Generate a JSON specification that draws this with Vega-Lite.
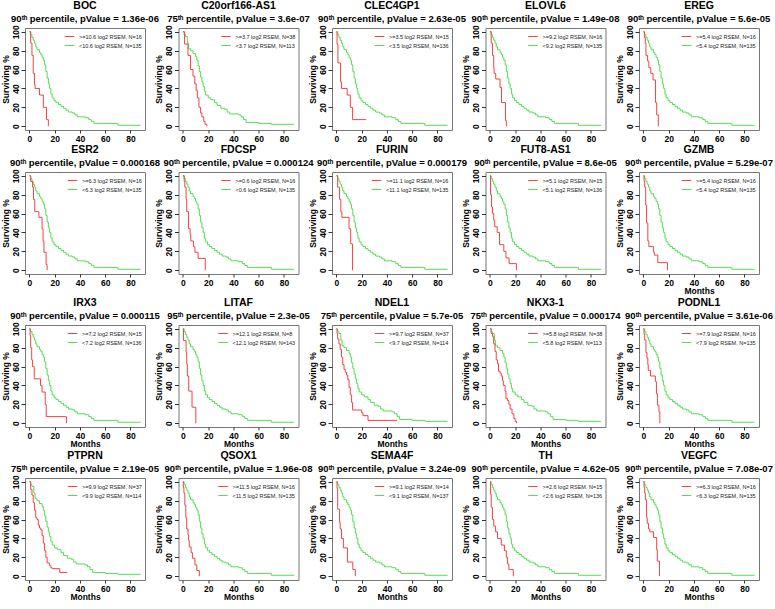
{
"$schema": "https://vega.github.io/schema/vega-lite/v6.json",
"background": "white",
"padding": {"left": 0, "top": 0, "right": 0, "bottom": 0},
"config": {
  "font": "Liberation Sans",
  "view": {"stroke": "#777777", "strokeWidth": 1},
  "axis": {"grid": false, "domain": false, "tickColor": "#333333", "tickSize": 3, "labelFont": "Liberation Sans", "labelFontWeight": "bold", "labelFontSize": 8.5, "labelColor": "black", "titleFont": "Liberation Sans", "titleFontSize": 8.5, "titleFontWeight": "bold", "titleColor": "black", "labelPadding": 1, "titlePadding": 0, "labelOverlap": false},
  "axisY": {"tickSize": 4, "labelAngle": 270, "labelAlign": "center", "labelBaseline": "bottom", "labelOverlap": false, "labelSeparation": 0, "titlePadding": 1},
  "title": {"font": "Liberation Sans", "fontSize": 10.5, "fontWeight": "bold", "color": "black", "subtitleFont": "Liberation Sans", "subtitleFontSize": 9.5, "subtitleFontWeight": "bold", "subtitleColor": "black", "anchor": "middle", "offset": 1, "subtitlePadding": 0},
  "legend": {"orient": "top-right", "offset": 3, "padding": 0, "title": null, "labelFont": "Liberation Sans", "labelFontSize": 5.5, "labelColor": "#222222", "symbolType": "stroke", "symbolSize": 90, "symbolStrokeWidth": 1, "rowPadding": 0, "labelOffset": 4},
  "line": {"strokeWidth": 1, "interpolate": "step-after"}
},
"datasets": {
  "low90": [{"t":0,"s":100},{"t":1,"s":97},{"t":2,"s":94},{"t":3,"s":91},{"t":4,"s":88},{"t":5,"s":84},{"t":6,"s":81},{"t":8,"s":78},{"t":9,"s":76},{"t":10,"s":73},{"t":11,"s":70},{"t":12,"s":65},{"t":13,"s":58},{"t":14,"s":51},{"t":15,"s":45},{"t":16,"s":40},{"t":17,"s":34},{"t":18,"s":30},{"t":19.5,"s":27},{"t":21,"s":25},{"t":23,"s":23},{"t":25,"s":21},{"t":27,"s":19},{"t":29,"s":17},{"t":31,"s":15},{"t":34,"s":14},{"t":36,"s":12},{"t":38,"s":10},{"t":44,"s":9},{"t":47,"s":7},{"t":49,"s":5},{"t":51,"s":3},{"t":70,"s":1},{"t":88,"s":1}],
  "low75": [{"t":0,"s":100},{"t":1,"s":97},{"t":2,"s":95},{"t":3.5,"s":88},{"t":4.5,"s":82},{"t":6,"s":80},{"t":8,"s":77},{"t":10,"s":74},{"t":11,"s":70},{"t":12,"s":64},{"t":13,"s":58},{"t":14,"s":52},{"t":15,"s":47},{"t":16,"s":42},{"t":17,"s":37},{"t":18,"s":33},{"t":20,"s":30},{"t":22,"s":28},{"t":25,"s":25},{"t":27,"s":22},{"t":30,"s":19},{"t":33,"s":18},{"t":35,"s":15},{"t":37,"s":13},{"t":44,"s":12},{"t":46,"s":10},{"t":48,"s":7},{"t":50,"s":4},{"t":60,"s":3},{"t":70,"s":2},{"t":88,"s":2}]
},
"spacing": 1,
"resolve": {"scale": {"color": "independent"}, "legend": {"color": "independent"}},
"vconcat": [
{"hconcat": [
{"width": 120, "height": 102, "title": {"text": "BOC", "subtitle": "90ᵗʰ percentile, pValue = 1.36e-06"},
 "encoding": {"x": {"field": "t", "type": "quantitative", "scale": {"domain": [-3.5, 91.5], "nice": false, "zero": false}, "axis": {"values": [0,20,40,60,80], "title": null}}, "y": {"field": "s", "type": "quantitative", "scale": {"domain": [-4, 104], "nice": false}, "axis": {"values": [0,20,40,60,80,100], "title": "Surviving %", "labelOverlap": false}}},
 "layer": [
  {"data": {"name": "low90"}, "mark": "line", "encoding": {"color": {"datum": "<10.6 log2 RSEM, N=135"}}},
  {"data": {"values": [{"t":0,"s":100},{"t":1,"s":88},{"t":2,"s":75},{"t":3,"s":56},{"t":4,"s":44},{"t":4.5,"s":40},{"t":8,"s":33},{"t":11,"s":20},{"t":13.5,"s":7},{"t":15,"s":0}]}, "mark": "line", "encoding": {"color": {"datum": ">=10.6 log2 RSEM, N=16", "scale": {"domain": [">=10.6 log2 RSEM, N=16", "<10.6 log2 RSEM, N=135"], "range": ["#ee4444", "#55dd55"]}}}}
 ]},
{"width": 120, "height": 102, "title": {"text": "C20orf166-AS1", "subtitle": "75ᵗʰ percentile, pValue = 3.6e-07"},
 "encoding": {"x": {"field": "t", "type": "quantitative", "scale": {"domain": [-3.5, 91.5], "nice": false, "zero": false}, "axis": {"values": [0,20,40,60,80], "title": null}}, "y": {"field": "s", "type": "quantitative", "scale": {"domain": [-4, 104], "nice": false}, "axis": {"values": [0,20,40,60,80,100], "title": "Surviving %", "labelOverlap": false}}},
 "layer": [
  {"data": {"name": "low75"}, "mark": "line", "encoding": {"color": {"datum": "<3.7 log2 RSEM, N=113"}}},
  {"data": {"values": [{"t":0,"s":100},{"t":1.3,"s":87},{"t":4,"s":75},{"t":6,"s":60},{"t":8,"s":53},{"t":9.4,"s":45},{"t":10.5,"s":38},{"t":11.4,"s":30},{"t":12.7,"s":20},{"t":14,"s":14},{"t":15,"s":10},{"t":16.5,"s":5},{"t":17.5,"s":2},{"t":19,"s":0}]}, "mark": "line", "encoding": {"color": {"datum": ">=3.7 log2 RSEM, N=38", "scale": {"domain": [">=3.7 log2 RSEM, N=38", "<3.7 log2 RSEM, N=113"], "range": ["#ee4444", "#55dd55"]}}}}
 ]},
{"width": 120, "height": 102, "title": {"text": "CLEC4GP1", "subtitle": "90ᵗʰ percentile, pValue = 2.63e-05"},
 "encoding": {"x": {"field": "t", "type": "quantitative", "scale": {"domain": [-3.5, 91.5], "nice": false, "zero": false}, "axis": {"values": [0,20,40,60,80], "title": null}}, "y": {"field": "s", "type": "quantitative", "scale": {"domain": [-4, 104], "nice": false}, "axis": {"values": [0,20,40,60,80,100], "title": "Surviving %", "labelOverlap": false}}},
 "layer": [
  {"data": {"name": "low90"}, "mark": "line", "encoding": {"color": {"datum": "<3.5 log2 RSEM, N=136"}}},
  {"data": {"values": [{"t":0,"s":100},{"t":0.5,"s":87},{"t":1.2,"s":67},{"t":3.3,"s":47},{"t":4,"s":40},{"t":8.5,"s":33},{"t":11,"s":20},{"t":12.8,"s":7},{"t":23.5,"s":7}]}, "mark": "line", "encoding": {"color": {"datum": ">=3.5 log2 RSEM, N=15", "scale": {"domain": [">=3.5 log2 RSEM, N=15", "<3.5 log2 RSEM, N=136"], "range": ["#ee4444", "#55dd55"]}}}}
 ]},
{"width": 120, "height": 102, "title": {"text": "ELOVL6", "subtitle": "90ᵗʰ percentile, pValue = 1.49e-08"},
 "encoding": {"x": {"field": "t", "type": "quantitative", "scale": {"domain": [-3.5, 91.5], "nice": false, "zero": false}, "axis": {"values": [0,20,40,60,80], "title": null}}, "y": {"field": "s", "type": "quantitative", "scale": {"domain": [-4, 104], "nice": false}, "axis": {"values": [0,20,40,60,80,100], "title": "Surviving %", "labelOverlap": false}}},
 "layer": [
  {"data": {"name": "low90"}, "mark": "line", "encoding": {"color": {"datum": "<9.2 log2 RSEM, N=135"}}},
  {"data": {"values": [{"t":0,"s":100},{"t":1,"s":88},{"t":2,"s":75},{"t":3,"s":62},{"t":3.3,"s":56},{"t":4.6,"s":50},{"t":8,"s":41},{"t":9.2,"s":25},{"t":12.3,"s":6},{"t":13,"s":0}]}, "mark": "line", "encoding": {"color": {"datum": ">=9.2 log2 RSEM, N=16", "scale": {"domain": [">=9.2 log2 RSEM, N=16", "<9.2 log2 RSEM, N=135"], "range": ["#ee4444", "#55dd55"]}}}}
 ]},
{"width": 120, "height": 102, "title": {"text": "EREG", "subtitle": "90ᵗʰ percentile, pValue = 5.6e-05"},
 "encoding": {"x": {"field": "t", "type": "quantitative", "scale": {"domain": [-3.5, 91.5], "nice": false, "zero": false}, "axis": {"values": [0,20,40,60,80], "title": null}}, "y": {"field": "s", "type": "quantitative", "scale": {"domain": [-4, 104], "nice": false}, "axis": {"values": [0,20,40,60,80,100], "title": "Surviving %", "labelOverlap": false}}},
 "layer": [
  {"data": {"name": "low90"}, "mark": "line", "encoding": {"color": {"datum": "<5.4 log2 RSEM, N=135"}}},
  {"data": {"values": [{"t":0,"s":100},{"t":0.8,"s":94},{"t":1.5,"s":88},{"t":2,"s":75},{"t":3.3,"s":69},{"t":4.3,"s":62},{"t":5.8,"s":56},{"t":7.6,"s":49},{"t":9.6,"s":25},{"t":10.5,"s":12},{"t":11.8,"s":0}]}, "mark": "line", "encoding": {"color": {"datum": ">=5.4 log2 RSEM, N=16", "scale": {"domain": [">=5.4 log2 RSEM, N=16", "<5.4 log2 RSEM, N=135"], "range": ["#ee4444", "#55dd55"]}}}}
 ]}
], "spacing": 33.5, "bounds": "flush", "resolve": {"scale": {"color": "independent"}, "legend": {"color": "independent"}}},
{"hconcat": [
{"width": 120, "height": 102, "title": {"text": "ESR2", "subtitle": "90ᵗʰ percentile, pValue = 0.000168"},
 "encoding": {"x": {"field": "t", "type": "quantitative", "scale": {"domain": [-3.5, 91.5], "nice": false, "zero": false}, "axis": {"values": [0,20,40,60,80], "title": null}}, "y": {"field": "s", "type": "quantitative", "scale": {"domain": [-4, 104], "nice": false}, "axis": {"values": [0,20,40,60,80,100], "title": "Surviving %", "labelOverlap": false}}},
 "layer": [
  {"data": {"name": "low90"}, "mark": "line", "encoding": {"color": {"datum": "<6.3 log2 RSEM, N=135"}}},
  {"data": {"values": [{"t":0,"s":100},{"t":1,"s":94},{"t":2.5,"s":88},{"t":3.2,"s":75},{"t":4.2,"s":62},{"t":7.5,"s":56},{"t":10,"s":44},{"t":10.8,"s":31},{"t":11.5,"s":19},{"t":13.2,"s":6},{"t":14,"s":0}]}, "mark": "line", "encoding": {"color": {"datum": ">=6.3 log2 RSEM, N=16", "scale": {"domain": [">=6.3 log2 RSEM, N=16", "<6.3 log2 RSEM, N=135"], "range": ["#ee4444", "#55dd55"]}}}}
 ]},
{"width": 120, "height": 102, "title": {"text": "FDCSP", "subtitle": "90ᵗʰ percentile, pValue = 0.000124"},
 "encoding": {"x": {"field": "t", "type": "quantitative", "scale": {"domain": [-3.5, 91.5], "nice": false, "zero": false}, "axis": {"values": [0,20,40,60,80], "title": null}}, "y": {"field": "s", "type": "quantitative", "scale": {"domain": [-4, 104], "nice": false}, "axis": {"values": [0,20,40,60,80,100], "title": "Surviving %", "labelOverlap": false}}},
 "layer": [
  {"data": {"name": "low90"}, "mark": "line", "encoding": {"color": {"datum": "<0.6 log2 RSEM, N=135"}}},
  {"data": {"values": [{"t":0,"s":100},{"t":1,"s":94},{"t":1.5,"s":88},{"t":2.5,"s":75},{"t":3,"s":62},{"t":4.4,"s":44},{"t":5.7,"s":38},{"t":6.2,"s":31},{"t":8.3,"s":25},{"t":9.5,"s":19},{"t":12,"s":12.5},{"t":17.7,"s":0}]}, "mark": "line", "encoding": {"color": {"datum": ">=0.6 log2 RSEM, N=16", "scale": {"domain": [">=0.6 log2 RSEM, N=16", "<0.6 log2 RSEM, N=135"], "range": ["#ee4444", "#55dd55"]}}}}
 ]},
{"width": 120, "height": 102, "title": {"text": "FURIN", "subtitle": "90ᵗʰ percentile, pValue = 0.000179"},
 "encoding": {"x": {"field": "t", "type": "quantitative", "scale": {"domain": [-3.5, 91.5], "nice": false, "zero": false}, "axis": {"values": [0,20,40,60,80], "title": null}}, "y": {"field": "s", "type": "quantitative", "scale": {"domain": [-4, 104], "nice": false}, "axis": {"values": [0,20,40,60,80,100], "title": "Surviving %", "labelOverlap": false}}},
 "layer": [
  {"data": {"name": "low90"}, "mark": "line", "encoding": {"color": {"datum": "<11.1 log2 RSEM, N=135"}}},
  {"data": {"values": [{"t":0,"s":100},{"t":1,"s":88},{"t":2.5,"s":75},{"t":3.5,"s":62},{"t":4.3,"s":56},{"t":10,"s":44},{"t":11.3,"s":28},{"t":12.7,"s":0}]}, "mark": "line", "encoding": {"color": {"datum": ">=11.1 log2 RSEM, N=16", "scale": {"domain": [">=11.1 log2 RSEM, N=16", "<11.1 log2 RSEM, N=135"], "range": ["#ee4444", "#55dd55"]}}}}
 ]},
{"width": 120, "height": 102, "title": {"text": "FUT8-AS1", "subtitle": "90ᵗʰ percentile, pValue = 8.6e-05"},
 "encoding": {"x": {"field": "t", "type": "quantitative", "scale": {"domain": [-3.5, 91.5], "nice": false, "zero": false}, "axis": {"values": [0,20,40,60,80], "title": null}}, "y": {"field": "s", "type": "quantitative", "scale": {"domain": [-4, 104], "nice": false}, "axis": {"values": [0,20,40,60,80,100], "title": "Surviving %", "labelOverlap": false}}},
 "layer": [
  {"data": {"name": "low90"}, "mark": "line", "encoding": {"color": {"datum": "<5.1 log2 RSEM, N=136"}}},
  {"data": {"values": [{"t":0,"s":100},{"t":0.5,"s":80},{"t":1.3,"s":67},{"t":2,"s":60},{"t":3,"s":53},{"t":3.8,"s":46},{"t":5.8,"s":40},{"t":7.6,"s":27},{"t":11,"s":20},{"t":12.7,"s":13},{"t":15.2,"s":7},{"t":21,"s":0}]}, "mark": "line", "encoding": {"color": {"datum": ">=5.1 log2 RSEM, N=15", "scale": {"domain": [">=5.1 log2 RSEM, N=15", "<5.1 log2 RSEM, N=136"], "range": ["#ee4444", "#55dd55"]}}}}
 ]},
{"width": 120, "height": 102, "title": {"text": "GZMB", "subtitle": "90ᵗʰ percentile, pValue = 5.29e-07"},
 "encoding": {"x": {"field": "t", "type": "quantitative", "scale": {"domain": [-3.5, 91.5], "nice": false, "zero": false}, "axis": {"values": [0,20,40,60,80], "title": "Months"}}, "y": {"field": "s", "type": "quantitative", "scale": {"domain": [-4, 104], "nice": false}, "axis": {"values": [0,20,40,60,80,100], "title": "Surviving %", "labelOverlap": false}}},
 "layer": [
  {"data": {"name": "low90"}, "mark": "line", "encoding": {"color": {"datum": "<5.4 log2 RSEM, N=135"}}},
  {"data": {"values": [{"t":0,"s":100},{"t":0.5,"s":94},{"t":1,"s":88},{"t":1.8,"s":69},{"t":2.5,"s":50},{"t":3.5,"s":31},{"t":4.3,"s":25},{"t":8.1,"s":19},{"t":8.6,"s":16},{"t":11.4,"s":8},{"t":19,"s":0}]}, "mark": "line", "encoding": {"color": {"datum": ">=5.4 log2 RSEM, N=16", "scale": {"domain": [">=5.4 log2 RSEM, N=16", "<5.4 log2 RSEM, N=135"], "range": ["#ee4444", "#55dd55"]}}}}
 ]}
], "spacing": 33.5, "bounds": "flush", "resolve": {"scale": {"color": "independent"}, "legend": {"color": "independent"}}},
{"hconcat": [
{"width": 120, "height": 102, "title": {"text": "IRX3", "subtitle": "90ᵗʰ percentile, pValue = 0.000115"},
 "encoding": {"x": {"field": "t", "type": "quantitative", "scale": {"domain": [-3.5, 91.5], "nice": false, "zero": false}, "axis": {"values": [0,20,40,60,80], "title": "Months"}}, "y": {"field": "s", "type": "quantitative", "scale": {"domain": [-4, 104], "nice": false}, "axis": {"values": [0,20,40,60,80,100], "title": "Surviving %", "labelOverlap": false}}},
 "layer": [
  {"data": {"name": "low90"}, "mark": "line", "encoding": {"color": {"datum": "<7.2 log2 RSEM, N=136"}}},
  {"data": {"values": [{"t":0,"s":100},{"t":0.5,"s":93},{"t":1,"s":80},{"t":1.8,"s":67},{"t":2.5,"s":60},{"t":3.8,"s":47},{"t":8.8,"s":40},{"t":10,"s":33},{"t":12.5,"s":20},{"t":13.3,"s":7},{"t":29.3,"s":0}]}, "mark": "line", "encoding": {"color": {"datum": ">=7.2 log2 RSEM, N=15", "scale": {"domain": [">=7.2 log2 RSEM, N=15", "<7.2 log2 RSEM, N=136"], "range": ["#ee4444", "#55dd55"]}}}}
 ]},
{"width": 120, "height": 102, "title": {"text": "LITAF", "subtitle": "95ᵗʰ percentile, pValue = 2.3e-05"},
 "encoding": {"x": {"field": "t", "type": "quantitative", "scale": {"domain": [-3.5, 91.5], "nice": false, "zero": false}, "axis": {"values": [0,20,40,60,80], "title": "Months"}}, "y": {"field": "s", "type": "quantitative", "scale": {"domain": [-4, 104], "nice": false}, "axis": {"values": [0,20,40,60,80,100], "title": "Surviving %", "labelOverlap": false}}},
 "layer": [
  {"data": {"name": "low90"}, "mark": "line", "encoding": {"color": {"datum": "<12.1 log2 RSEM, N=143"}}},
  {"data": {"values": [{"t":0,"s":100},{"t":0.5,"s":87.5},{"t":2.5,"s":75},{"t":3,"s":62.5},{"t":3.5,"s":50},{"t":4.6,"s":34},{"t":7.2,"s":17},{"t":10.2,"s":0}]}, "mark": "line", "encoding": {"color": {"datum": ">=12.1 log2 RSEM, N=8", "scale": {"domain": [">=12.1 log2 RSEM, N=8", "<12.1 log2 RSEM, N=143"], "range": ["#ee4444", "#55dd55"]}}}}
 ]},
{"width": 120, "height": 102, "title": {"text": "NDEL1", "subtitle": "75ᵗʰ percentile, pValue = 5.7e-05"},
 "encoding": {"x": {"field": "t", "type": "quantitative", "scale": {"domain": [-3.5, 91.5], "nice": false, "zero": false}, "axis": {"values": [0,20,40,60,80], "title": "Months"}}, "y": {"field": "s", "type": "quantitative", "scale": {"domain": [-4, 104], "nice": false}, "axis": {"values": [0,20,40,60,80,100], "title": "Surviving %", "labelOverlap": false}}},
 "layer": [
  {"data": {"name": "low75"}, "mark": "line", "encoding": {"color": {"datum": "<9.7 log2 RSEM, N=114"}}},
  {"data": {"values": [{"t":0,"s":100},{"t":0.5,"s":95},{"t":1,"s":89},{"t":2,"s":84},{"t":3,"s":78},{"t":4,"s":70},{"t":5,"s":62},{"t":6,"s":57},{"t":7,"s":54},{"t":8,"s":51},{"t":9,"s":46},{"t":10,"s":38},{"t":11,"s":30},{"t":12,"s":22},{"t":12.8,"s":14},{"t":20,"s":11},{"t":21,"s":8},{"t":25,"s":3},{"t":48,"s":3}]}, "mark": "line", "encoding": {"color": {"datum": ">=9.7 log2 RSEM, N=37", "scale": {"domain": [">=9.7 log2 RSEM, N=37", "<9.7 log2 RSEM, N=114"], "range": ["#ee4444", "#55dd55"]}}}}
 ]},
{"width": 120, "height": 102, "title": {"text": "NKX3-1", "subtitle": "75ᵗʰ percentile, pValue = 0.000174"},
 "encoding": {"x": {"field": "t", "type": "quantitative", "scale": {"domain": [-3.5, 91.5], "nice": false, "zero": false}, "axis": {"values": [0,20,40,60,80], "title": "Months"}}, "y": {"field": "s", "type": "quantitative", "scale": {"domain": [-4, 104], "nice": false}, "axis": {"values": [0,20,40,60,80,100], "title": "Surviving %", "labelOverlap": false}}},
 "layer": [
  {"data": {"name": "low75"}, "mark": "line", "encoding": {"color": {"datum": "<5.8 log2 RSEM, N=113"}}},
  {"data": {"values": [{"t":0,"s":100},{"t":1,"s":95},{"t":2,"s":92},{"t":3,"s":84},{"t":4,"s":76},{"t":5,"s":67},{"t":6,"s":63},{"t":6.8,"s":55},{"t":8,"s":53},{"t":9,"s":50},{"t":10,"s":45},{"t":10.6,"s":40},{"t":12,"s":34},{"t":12.7,"s":26},{"t":14,"s":24},{"t":15,"s":20},{"t":16,"s":15},{"t":17.5,"s":10},{"t":19,"s":5},{"t":20,"s":2},{"t":21,"s":0}]}, "mark": "line", "encoding": {"color": {"datum": ">=5.8 log2 RSEM, N=38", "scale": {"domain": [">=5.8 log2 RSEM, N=38", "<5.8 log2 RSEM, N=113"], "range": ["#ee4444", "#55dd55"]}}}}
 ]},
{"width": 120, "height": 102, "title": {"text": "PODNL1", "subtitle": "90ᵗʰ percentile, pValue = 3.61e-06"},
 "encoding": {"x": {"field": "t", "type": "quantitative", "scale": {"domain": [-3.5, 91.5], "nice": false, "zero": false}, "axis": {"values": [0,20,40,60,80], "title": "Months"}}, "y": {"field": "s", "type": "quantitative", "scale": {"domain": [-4, 104], "nice": false}, "axis": {"values": [0,20,40,60,80,100], "title": "Surviving %", "labelOverlap": false}}},
 "layer": [
  {"data": {"name": "low90"}, "mark": "line", "encoding": {"color": {"datum": "<7.9 log2 RSEM, N=135"}}},
  {"data": {"values": [{"t":0,"s":100},{"t":0.5,"s":94},{"t":1,"s":88},{"t":2,"s":75},{"t":2.8,"s":69},{"t":3.5,"s":62},{"t":3.8,"s":56},{"t":5.6,"s":50},{"t":9.5,"s":44},{"t":10.3,"s":31},{"t":11.2,"s":19},{"t":12.3,"s":12},{"t":13,"s":0}]}, "mark": "line", "encoding": {"color": {"datum": ">=7.9 log2 RSEM, N=16", "scale": {"domain": [">=7.9 log2 RSEM, N=16", "<7.9 log2 RSEM, N=135"], "range": ["#ee4444", "#55dd55"]}}}}
 ]}
], "spacing": 33.5, "bounds": "flush", "resolve": {"scale": {"color": "independent"}, "legend": {"color": "independent"}}},
{"hconcat": [
{"width": 120, "height": 102, "title": {"text": "PTPRN", "subtitle": "75ᵗʰ percentile, pValue = 2.19e-05"},
 "encoding": {"x": {"field": "t", "type": "quantitative", "scale": {"domain": [-3.5, 91.5], "nice": false, "zero": false}, "axis": {"values": [0,20,40,60,80], "title": "Months"}}, "y": {"field": "s", "type": "quantitative", "scale": {"domain": [-4, 104], "nice": false}, "axis": {"values": [0,20,40,60,80,100], "title": "Surviving %", "labelOverlap": false}}},
 "layer": [
  {"data": {"name": "low75"}, "mark": "line", "encoding": {"color": {"datum": "<9.9 log2 RSEM, N=114"}}},
  {"data": {"values": [{"t":0,"s":100},{"t":1,"s":92},{"t":2,"s":86},{"t":3,"s":78},{"t":4,"s":70},{"t":5,"s":62},{"t":6,"s":60},{"t":7,"s":54},{"t":8,"s":51},{"t":9,"s":49},{"t":10,"s":43},{"t":11,"s":35},{"t":12,"s":27},{"t":13,"s":20},{"t":14,"s":14},{"t":16,"s":11},{"t":17,"s":9},{"t":18,"s":8},{"t":24,"s":4},{"t":30,"s":4}]}, "mark": "line", "encoding": {"color": {"datum": ">=9.9 log2 RSEM, N=37", "scale": {"domain": [">=9.9 log2 RSEM, N=37", "<9.9 log2 RSEM, N=114"], "range": ["#ee4444", "#55dd55"]}}}}
 ]},
{"width": 120, "height": 102, "title": {"text": "QSOX1", "subtitle": "90ᵗʰ percentile, pValue = 1.96e-08"},
 "encoding": {"x": {"field": "t", "type": "quantitative", "scale": {"domain": [-3.5, 91.5], "nice": false, "zero": false}, "axis": {"values": [0,20,40,60,80], "title": "Months"}}, "y": {"field": "s", "type": "quantitative", "scale": {"domain": [-4, 104], "nice": false}, "axis": {"values": [0,20,40,60,80,100], "title": "Surviving %", "labelOverlap": false}}},
 "layer": [
  {"data": {"name": "low90"}, "mark": "line", "encoding": {"color": {"datum": "<11.5 log2 RSEM, N=135"}}},
  {"data": {"values": [{"t":0,"s":100},{"t":0.3,"s":94},{"t":0.8,"s":88},{"t":1.5,"s":75},{"t":2.3,"s":62},{"t":3,"s":50},{"t":4,"s":44},{"t":4.5,"s":38},{"t":5,"s":31},{"t":6.5,"s":25},{"t":7.5,"s":19},{"t":9.5,"s":12},{"t":11,"s":6},{"t":13,"s":0}]}, "mark": "line", "encoding": {"color": {"datum": ">=11.5 log2 RSEM, N=16", "scale": {"domain": [">=11.5 log2 RSEM, N=16", "<11.5 log2 RSEM, N=135"], "range": ["#ee4444", "#55dd55"]}}}}
 ]},
{"width": 120, "height": 102, "title": {"text": "SEMA4F", "subtitle": "90ᵗʰ percentile, pValue = 3.24e-09"},
 "encoding": {"x": {"field": "t", "type": "quantitative", "scale": {"domain": [-3.5, 91.5], "nice": false, "zero": false}, "axis": {"values": [0,20,40,60,80], "title": "Months"}}, "y": {"field": "s", "type": "quantitative", "scale": {"domain": [-4, 104], "nice": false}, "axis": {"values": [0,20,40,60,80,100], "title": "Surviving %", "labelOverlap": false}}},
 "layer": [
  {"data": {"name": "low90"}, "mark": "line", "encoding": {"color": {"datum": "<9.1 log2 RSEM, N=137"}}},
  {"data": {"values": [{"t":0,"s":100},{"t":0.5,"s":93},{"t":1,"s":71},{"t":2.5,"s":57},{"t":3,"s":50},{"t":4,"s":40},{"t":5.5,"s":30},{"t":8.7,"s":15},{"t":13,"s":7},{"t":15,"s":0}]}, "mark": "line", "encoding": {"color": {"datum": ">=9.1 log2 RSEM, N=14", "scale": {"domain": [">=9.1 log2 RSEM, N=14", "<9.1 log2 RSEM, N=137"], "range": ["#ee4444", "#55dd55"]}}}}
 ]},
{"width": 120, "height": 102, "title": {"text": "TH", "subtitle": "90ᵗʰ percentile, pValue = 4.62e-05"},
 "encoding": {"x": {"field": "t", "type": "quantitative", "scale": {"domain": [-3.5, 91.5], "nice": false, "zero": false}, "axis": {"values": [0,20,40,60,80], "title": "Months"}}, "y": {"field": "s", "type": "quantitative", "scale": {"domain": [-4, 104], "nice": false}, "axis": {"values": [0,20,40,60,80,100], "title": "Surviving %", "labelOverlap": false}}},
 "layer": [
  {"data": {"name": "low90"}, "mark": "line", "encoding": {"color": {"datum": "<2.6 log2 RSEM, N=136"}}},
  {"data": {"values": [{"t":0,"s":100},{"t":0.5,"s":87},{"t":1,"s":73},{"t":2,"s":60},{"t":3,"s":53},{"t":4.5,"s":47},{"t":6,"s":40},{"t":9,"s":33},{"t":11.5,"s":27},{"t":13,"s":20},{"t":14,"s":13},{"t":15,"s":7},{"t":18.5,"s":0}]}, "mark": "line", "encoding": {"color": {"datum": ">=2.6 log2 RSEM, N=15", "scale": {"domain": [">=2.6 log2 RSEM, N=15", "<2.6 log2 RSEM, N=136"], "range": ["#ee4444", "#55dd55"]}}}}
 ]},
{"width": 120, "height": 102, "title": {"text": "VEGFC", "subtitle": "90ᵗʰ percentile, pValue = 7.08e-07"},
 "encoding": {"x": {"field": "t", "type": "quantitative", "scale": {"domain": [-3.5, 91.5], "nice": false, "zero": false}, "axis": {"values": [0,20,40,60,80], "title": "Months"}}, "y": {"field": "s", "type": "quantitative", "scale": {"domain": [-4, 104], "nice": false}, "axis": {"values": [0,20,40,60,80,100], "title": "Surviving %", "labelOverlap": false}}},
 "layer": [
  {"data": {"name": "low90"}, "mark": "line", "encoding": {"color": {"datum": "<6.3 log2 RSEM, N=135"}}},
  {"data": {"values": [{"t":0,"s":100},{"t":0.5,"s":94},{"t":1,"s":88},{"t":1.5,"s":81},{"t":2.5,"s":62},{"t":3,"s":56},{"t":4,"s":50},{"t":5,"s":47},{"t":8,"s":41},{"t":10.5,"s":28},{"t":11,"s":16},{"t":12.7,"s":0}]}, "mark": "line", "encoding": {"color": {"datum": ">=6.3 log2 RSEM, N=16", "scale": {"domain": [">=6.3 log2 RSEM, N=16", "<6.3 log2 RSEM, N=135"], "range": ["#ee4444", "#55dd55"]}}}}
 ]}
], "spacing": 33.5, "bounds": "flush", "resolve": {"scale": {"color": "independent"}, "legend": {"color": "independent"}}}
]
}
